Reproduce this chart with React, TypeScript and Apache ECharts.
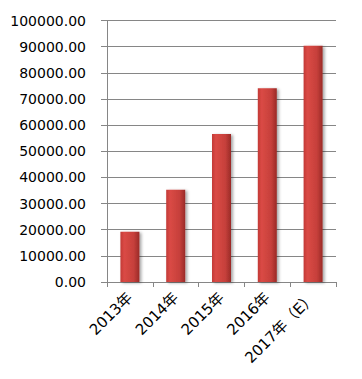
import React, { useEffect, useRef } from "react";
import * as echarts from "echarts";

const categories = ["2013年", "2014年", "2015年", "2016年", "2017年（E）"];
const values = [19200, 35300, 56600, 74100, 90300];
const yMin = 0;
const yMax = 100000;
const yInterval = 10000;

export default function App() {
  const ref = useRef<HTMLDivElement>(null);
  useEffect(() => {
    if (!ref.current) return;
    const chart = echarts.init(ref.current, undefined, { renderer: "svg" });
    chart.setOption({
      animation: false,
      backgroundColor: "#ffffff",
      grid: { left: 107, right: 26, top: 20.5, bottom: 97, containLabel: false },
      xAxis: {
        type: "category",
        data: categories,
        boundaryGap: true,
        axisLine: { show: true, lineStyle: { color: "#868686", width: 1 } },
        axisTick: { show: true, length: 5, lineStyle: { color: "#868686" } },
        axisLabel: {
          rotate: 45,
          color: "#000",
          fontSize: 15,
          fontFamily: "DejaVu Sans, Noto Sans CJK SC",
          margin: 13,
          interval: 0,
        },
      },
      yAxis: {
        type: "value",
        min: yMin,
        max: yMax,
        interval: yInterval,
        axisLine: { show: true, lineStyle: { color: "#868686", width: 1 } },
        axisTick: { show: true, length: 6, lineStyle: { color: "#868686" } },
        splitLine: { show: true, lineStyle: { color: "#868686", width: 1 } },
        axisLabel: {
          color: "#000",
          fontSize: 14,
          fontFamily: "DejaVu Sans",
          margin: 21,
          formatter: (v: number) => v.toFixed(2),
        },
      },
      series: [
        {
          type: "bar",
          data: values,
          barWidth: 19,
          itemStyle: {
            color: new echarts.graphic.LinearGradient(0, 0, 1, 0, [
              { offset: 0, color: "#c23a36" },
              { offset: 0.2, color: "#da4a45" },
              { offset: 0.7, color: "#c6403b" },
              { offset: 1, color: "#9a2a27" },
            ]),
            shadowBlur: 3,
            shadowOffsetX: 2,
            shadowOffsetY: 1,
            shadowColor: "rgba(0,0,0,0.35)",
          },
        },
      ],
    });
    return () => chart.dispose();
  }, []);
  return (
    <div
      ref={ref}
      style={{ position: "fixed", left: 0, top: 0, width: 362, height: 379 }}
    />
  );
}
